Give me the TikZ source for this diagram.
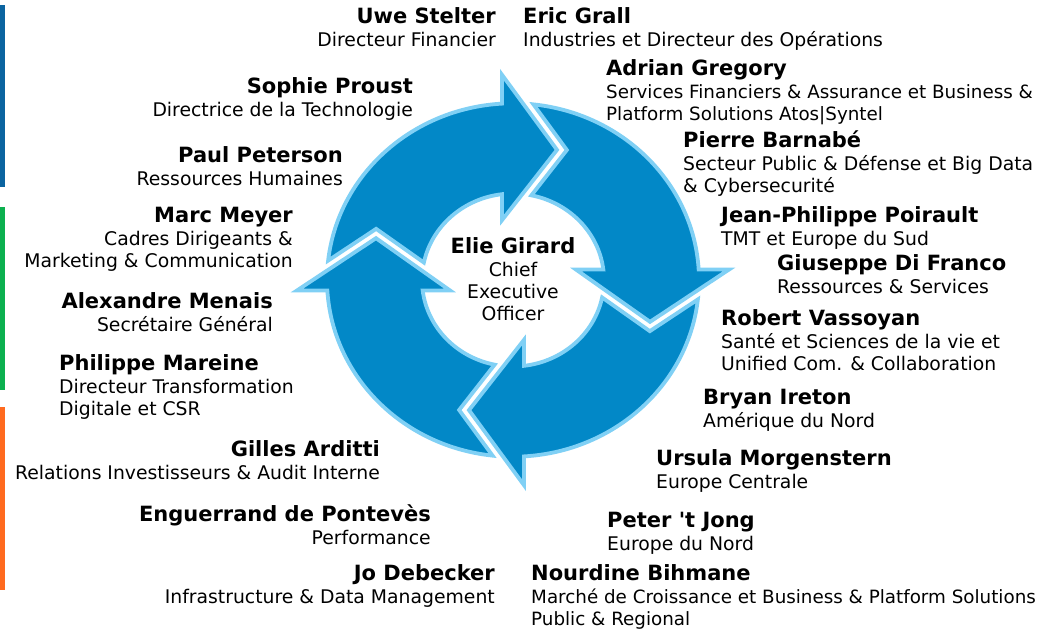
\documentclass[tikz,border=0pt]{standalone}
\usepackage{fontspec}
\setmainfont{DejaVu Sans}
\definecolor{cycfill}{HTML}{0288C7}
\definecolor{cycline}{HTML}{80D0F5}
\definecolor{barblue}{HTML}{0B64A0}
\definecolor{bargreen}{HTML}{0CB04F}
\definecolor{barorange}{HTML}{FF6A1F}
\newcommand\namef{\bfseries\fontsize{21}{22}\selectfont}
\newcommand\pers[3]{\begin{tabular}[t]{@{}#1@{}}{\namef #2}\\[1.5pt]#3\end{tabular}}
\begin{document}
\begin{tikzpicture}[x=1pt,y=-1pt,
  txt/.style={inner sep=0pt, font=\fontsize{18.8}{22}\selectfont},
  narrow/.style={font=\fontsize{18.3}{22}\selectfont},
  lt/.style={txt, anchor=base east},
  rt/.style={txt, anchor=base west},
  arr/.style={fill=cycfill, draw=cycline, line width=3.8pt, line join=miter},
  sidebar/.style={draw=none}]
\useasboundingbox (0,0) rectangle (1043,632);
\fill[white] (0,0) rectangle (1043,632);
% side bars
\fill[sidebar, barblue] (0,5) rectangle (5,187);
\fill[sidebar, bargreen] (0,207) rectangle (5,390);
\fill[sidebar, barorange] (0,407) rectangle (5,590);
% cycle arrows
\begin{scope}[shift={(513,280)}, yscale=-0.95]
\foreach \o in {0,90,180,270} {
  \draw[arr] (173.69-\o:186) arc[start angle=173.69-\o, end angle=93.39-\o, radius=186]
    -- (92.92-\o:216.3) -- (72.19-\o:143.9) -- (99.90-\o:63.95) -- (96.94-\o:91)
    arc[start angle=96.94-\o, end angle=168.34-\o, radius=91]
    -- (158.52-\o:147.08) -- cycle;
}
\end{scope}
% centre
\node[txt, anchor=base] (ceo) at (513,253) {\begin{tabular}[t]{@{}c@{}}{\namef Elie Girard}\\[1.5pt]Chief\\Executive\\Officer\end{tabular}};
% left side
\node[lt] (uwe) at (496,23) {\pers{r}{Uwe Stelter}{Directeur Financier}};
\node[lt] (sophie) at (413,93) {\pers{r}{Sophie Proust}{Directrice de la Technologie}};
\node[lt] (paul) at (343,162) {\pers{r}{Paul Peterson}{Ressources Humaines}};
\node[lt] (marc) at (293,222) {\pers{r}{Marc Meyer}{Cadres Dirigeants \&\\Marketing \& Communication}};
\node[lt] (alex) at (273,308) {\pers{r}{Alexandre Menais}{Secrétaire Général}};
\node[rt] (phil) at (59,370) {\pers{l}{Philippe Mareine}{Directeur Transformation\\Digitale et CSR}};
\node[lt] (gilles) at (380,456) {\pers{r}{Gilles Arditti}{Relations Investisseurs \& Audit Interne}};
\node[lt] (engu) at (431,521) {\pers{r}{Enguerrand de Pontevès}{Performance}};
\node[lt] (jo) at (495,580) {\pers{r}{Jo Debecker}{Infrastructure \& Data Management}};
% right side
\node[rt] (eric) at (523,23) {\pers{l}{Eric Grall}{Industries et Directeur des Opérations}};
\node[rt, narrow] (adrian) at (606,75) {\pers{l}{Adrian Gregory}{Services Financiers \& Assurance et Business \&\\Platform Solutions Atos|Syntel}};
\node[rt] (pierre) at (683,147) {\pers{l}{Pierre Barnabé}{Secteur Public \& Défense et Big Data\\\& Cybersecurité}};
\node[rt] (jp) at (721,222) {\pers{l}{Jean-Philippe Poirault}{TMT et Europe du Sud}};
\node[rt] (gius) at (777,270) {\pers{l}{Giuseppe Di Franco}{Ressources \& Services}};
\node[rt] (robert) at (721,325) {\pers{l}{Robert Vassoyan}{Santé et Sciences de la vie et\\Unified Com. \& Collaboration}};
\node[rt] (bryan) at (703,404) {\pers{l}{Bryan Ireton}{Amérique du Nord}};
\node[rt] (ursula) at (656,465) {\pers{l}{Ursula Morgenstern}{Europe Centrale}};
\node[rt] (peter) at (607,527) {\pers{l}{Peter \textquotesingle t Jong}{Europe du Nord}};
\node[rt, narrow] (nourdine) at (531,580) {\pers{l}{Nourdine Bihmane}{Marché de Croissance et Business \& Platform Solutions\\Public \& Regional}};
\end{tikzpicture}
\end{document}
